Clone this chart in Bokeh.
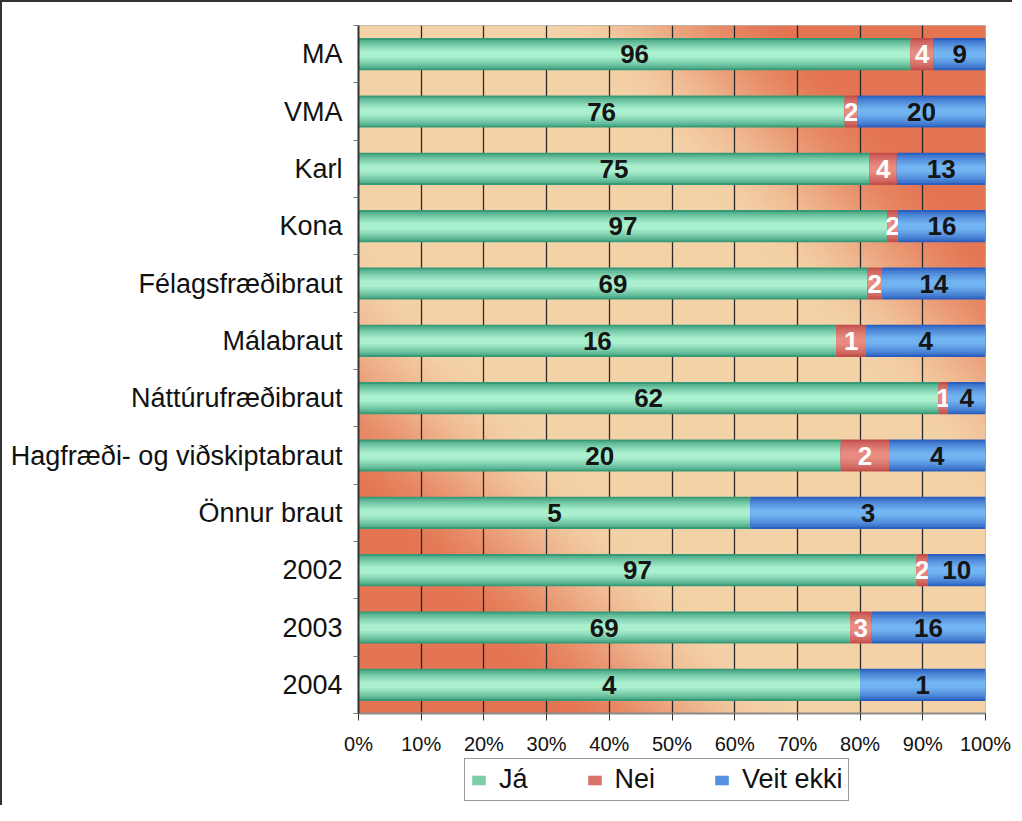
import numpy as np
from bokeh.plotting import figure
from bokeh.layouts import column
from bokeh.models import Range1d, FixedTicker, PrintfTickFormatter, Legend, LegendItem, ColumnDataSource
from bokeh.core.properties import value
from bokeh.embed import file_html
from bokeh.resources import INLINE

# ---------------- data ----------------
categories = ["MA", "VMA", "Karl", "Kona", "Félagsfræðibraut", "Málabraut",
              "Náttúrufræðibraut", "Hagfræði- og viðskiptabraut", "Önnur braut",
              "2002", "2003", "2004"]
ja = [96, 76, 75, 97, 69, 16, 62, 20, 5, 97, 69, 4]
nei = [4, 2, 4, 2, 2, 1, 1, 2, 0, 2, 3, 0]
veit_ekki = [9, 20, 13, 16, 14, 4, 4, 4, 3, 10, 16, 1]
series_names = ["Já", "Nei", "Veit ekki"]
x_ticks = list(range(0, 101, 10))

# ---------------- styling ----------------
FONT = "Liberation Sans"
edge_center = {
    "Já": ("#369a77", "#aaf0cf"),
    "Nei": ("#c24e4c", "#e88c82"),
    "Veit ekki": ("#2a5ebf", "#72b3f2"),
}
label_colors = {"Já": "#151515", "Nei": "#ffffff", "Veit ekki": "#151515"}
BAR_H = 0.56
N_LAYERS = 8


def mix(c1, c2, f):
    a = [int(c1[i:i + 2], 16) for i in (1, 3, 5)]
    b = [int(c2[i:i + 2], 16) for i in (1, 3, 5)]
    return "#%02x%02x%02x" % tuple(int(round(a[k] + (b[k] - a[k]) * f)) for k in range(3))


n = len(categories)
ypos = [n - 1 - i for i in range(n)]
series_vals = [ja, nei, veit_ekki]
totals = [a + b + c for a, b, c in zip(ja, nei, veit_ekki)]

p = figure(width=1010, height=756, output_backend="svg", toolbar_location=None,
           x_range=Range1d(0, 100), y_range=Range1d(-0.5, n - 0.5),
           min_border_left=356, min_border_right=27, min_border_top=23, min_border_bottom=45)
p.background_fill_color = "#f3d0a8"
p.border_fill_color = "white"
p.outline_line_color = "#b5b5b5"
p.outline_line_width = 1

# background diagonal gradient
ny, nx = 140, 220
img = np.empty((ny, nx), dtype=np.uint32)
view = img.view(dtype=np.uint8).reshape((ny, nx, 4))
xf = (np.arange(nx) + 0.5) / nx
yf_top = 1.0 - (np.arange(ny) + 0.5) / ny
d = np.abs(xf[None, :] - yf_top[:, None])
t = np.clip((d - 0.31) / (0.70 - 0.31), 0, 1)
t = t * t * (3 - 2 * t)
light = np.array([244, 210, 168])
dark = np.array([228, 116, 82])
for k in range(3):
    view[:, :, k] = (light[k] + (dark[k] - light[k]) * t).astype(np.uint8)
view[:, :, 3] = 255
p.image_rgba(image=[img], x=0, y=-0.5, dw=100, dh=n, level="image")

# stacked bars
lefts = [0.0] * n
for name, vals in zip(series_names, series_vals):
    pct = [v / tot * 100 for v, tot in zip(vals, totals)]
    rights = [l + q for l, q in zip(lefts, pct)]
    src = ColumnDataSource(dict(y=ypos, left=lefts, right=rights))
    edge, center = edge_center[name]
    for j in range(N_LAYERS):
        f = j / (N_LAYERS - 1)
        h = BAR_H * (1 - 0.8 * f)
        c = mix(edge, center, f ** 0.7)
        p.hbar(y="y", left="left", right="right", height=h, source=src,
               fill_color=c, line_color=None)
    lx, ly, lt = [], [], []
    for i in range(n):
        if vals[i] > 0:
            lx.append((lefts[i] + rights[i]) / 2)
            ly.append(ypos[i])
            lt.append(str(vals[i]))
    p.text(x=lx, y=ly, text=lt, text_font=value(FONT), text_font_style="bold",
           text_font_size="26px", text_color=label_colors[name],
           text_align="center", text_baseline="middle")
    lefts = rights

# x axis
p.xaxis.ticker = FixedTicker(ticks=x_ticks)
p.xaxis.formatter = PrintfTickFormatter(format="%d%%")
p.xaxis.major_label_text_font = FONT
p.xaxis.major_label_text_font_size = "20px"
p.xaxis.major_label_text_color = "#111"
p.xaxis.axis_line_color = "#8a8a8a"
p.xaxis.axis_line_width = 2
p.xaxis.major_tick_out = 7
p.xaxis.major_tick_in = 0
p.xaxis.major_tick_line_color = "#333"
p.xaxis.minor_tick_line_color = None
p.xaxis.major_label_standoff = 12

# y axis
p.yaxis.ticker = FixedTicker(ticks=ypos, minor_ticks=[k - 0.5 for k in range(n + 1)])
p.yaxis.major_label_overrides = {y: c for y, c in zip(ypos, categories)}
p.yaxis.major_label_text_font = FONT
p.yaxis.major_label_text_font_size = "27px"
p.yaxis.major_label_text_color = "#111"
p.yaxis.axis_line_color = "#333"
p.yaxis.axis_line_width = 2
p.yaxis.major_tick_out = 0
p.yaxis.major_tick_in = 0
p.yaxis.minor_tick_out = 5
p.yaxis.minor_tick_in = 0
p.yaxis.minor_tick_line_color = "#777"
p.yaxis.major_label_standoff = 11

# grid
p.xgrid.ticker = FixedTicker(ticks=x_ticks[1:-1])
p.xgrid.grid_line_color = "#2a2a2a"
p.xgrid.grid_line_width = 1.3
p.ygrid.grid_line_color = None

# ---------------- legend strip ----------------
pl = figure(width=1010, height=47, output_backend="svg", toolbar_location=None,
            x_range=Range1d(0, 1), y_range=Range1d(0, 1),
            x_axis_type=None, y_axis_type=None, min_border=0)
pl.outline_line_color = None
pl.xgrid.grid_line_color = None
pl.ygrid.grid_line_color = None
legend_items = []
for name in series_names:
    edge, center = edge_center[name]
    r = pl.hbar(y=[5], left=[5], right=[6], height=0.5,
                fill_color=mix(edge, center, 0.6), line_color=None)
    legend_items.append(LegendItem(label=name, renderers=[r]))
legend = Legend(items=legend_items, orientation="horizontal", location=(106, 4),
                label_text_font=FONT, label_text_font_size="27px", label_text_color="#111",
                glyph_width=17, glyph_height=12, label_standoff=12, spacing=58,
                padding=5, margin=0, border_line_color="#333", border_line_width=1.5,
                background_fill_color="white", background_fill_alpha=1)
pl.add_layout(legend, "center")

layout = column(p, pl, spacing=0)
layout.styles = {"border-left": "2px solid #333", "border-top": "2px solid #333"}

open("out.html", "w").write(file_html(layout, INLINE))
